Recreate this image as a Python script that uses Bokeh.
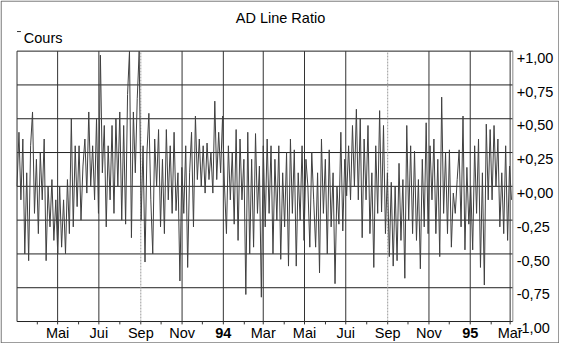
import pandas as pd
from bokeh.plotting import figure
from bokeh.models import Range1d, ColumnDataSource
from bokeh.core.properties import value
from bokeh.embed import file_html
from bokeh.resources import INLINE

# ---- data ----
values = [
    0.0, 0.4, -0.1, 0.35, -0.5, 0.1, -0.55,
    0.3, 0.55, -0.2, 0.2, -0.35, 0.25, -0.1,
    0.35, -0.55, 0.0, -0.3, 0.05, -0.4, -0.1,
    -0.5, 0.0, -0.45, -0.1, -0.5, 0.05, -0.35,
    0.5, -0.3, 0.3, -0.15, 0.3, -0.25, 0.15,
    0.35, -0.05, 0.55, 0.0, 0.3, -0.1, 0.5,
    -0.2, 0.97, 0.1, 0.45, -0.3, 0.3, -0.1,
    0.45, -0.2, 0.5, 0.0, 0.55, -0.25, 0.45,
    -0.28, 0.68, 1.0, -0.38, 0.55, 0.1, 0.65,
    1.0, -0.25, 0.3, -0.56, 0.25, 0.54, -0.1,
    -0.5, 0.35, 0.0, 0.42, -0.3, 0.2, -0.35,
    0.42, -0.1, 0.3, -0.2, 0.4, -0.18, 0.1,
    -0.7, 0.14, -0.2, 0.3, -0.6, 0.1, 0.4,
    -0.3, 0.52, 0.05, 0.35, 0.0, 0.3, -0.05,
    0.32, 0.05, 0.25, -0.05, 0.63, 0.05, 0.4,
    0.1, 0.52, 0.0, -0.35, 0.3, -0.1, 0.25,
    -0.28, 0.42, -0.4, 0.35, -0.1, 0.2, -0.8,
    0.4, -0.5, 0.2, -0.45, 0.39, -0.2, 0.15,
    -0.82, 0.3, -0.3, 0.35, -0.2, 0.3, -0.5,
    0.2, -0.25, 0.3, -0.54, 0.1, -0.3, 0.25,
    -0.59, 0.35, -0.2, 0.27, -0.59, 0.1, -0.25,
    0.3, -0.4, 0.2, 0.0, -0.45, 0.25, -0.1,
    -0.45, 0.1, -0.64, 0.35, -0.2, 0.2, -0.5,
    0.27, -0.3, 0.1, -0.72, 0.0, -0.28, 0.4,
    -0.33, 0.2, -0.07, 0.3, -0.1, 0.45, 0.0,
    0.57, -0.1, 0.5, -0.38, 0.35, -0.1, 0.45,
    -0.35, 0.1, -0.6, 0.3, -0.2, 0.56, -0.19,
    0.45, -0.35, 0.1, -0.52, 0.03, -0.59, 0.0,
    -0.55, 0.17, -0.4, 0.05, -0.68, 0.45, -0.25,
    0.3, -0.35, 0.26, -0.4, 0.05, -0.61, 0.2,
    -0.3, 0.47, -0.35, 0.3, -0.1, 0.35, -0.35,
    0.2, -0.52, 0.66, -0.2, 0.25, -0.35, 0.27,
    -0.45, -0.05, -0.2, 0.05, 0.27, -0.3, 0.52,
    -0.47, 0.14, -0.28, 0.0, -0.47, 0.3, -0.2,
    0.35, -0.6, 0.1, -0.73, 0.46, -0.1, 0.42,
    -0.1, 0.45, 0.0, 0.35, -0.3, 0.1, -0.35,
    0.3, -0.4, 0.15, -0.1,
]
first_date = "1993-03-02"
last_date = "1995-03-03"
range_start = "1993-03-02"
range_end = "1995-03-05"

tick_dates = ["1993-05-01", "1993-07-01", "1993-09-01", "1993-11-01",
              "1994-01-01", "1994-03-01", "1994-05-01", "1994-07-01",
              "1994-09-01", "1994-11-01", "1995-01-01", "1995-03-01"]
tick_labels = ["Mai", "Jui", "Sep", "Nov", "94", "Mar",
               "Mai", "Jui", "Sep", "Nov", "95", "Mar"]
bold_labels = ["94", "95"]
dotted_labels = ["Sep"]
minor_start, minor_end = "1993-04-01", "1995-02-01"

y_ticks = [-1.0, -0.75, -0.5, -0.25, 0.0, 0.25, 0.5, 0.75, 1.0]
y_labels = ["-1,00", "-0,75", "-0,50", "-0,25", "+0,00",
            "+0,25", "+0,50", "+0,75", "+1,00"]

title_text = "AD Line Ratio"
legend_text = "Cours"


def ms(d):
    return pd.Timestamp(d).value / 1e6


dates = pd.date_range(first_date, last_date, periods=len(values))
xs = [ts.value / 1e6 for ts in dates]
tick_ms = [ms(d) for d in tick_dates]
minor_ms = [ts.value / 1e6 for ts in pd.date_range(minor_start, minor_end, freq="MS")]

# ---- layout: reference picture is 575x359; the figure fits inside the
# window minus the 8px page margin, so everything is scaled to it ----
REF_W, REF_H = 575, 359
W, H = 559, 343
FL, FR, FT, FB = 17, 527, 53, 336          # plot frame in reference pixels
x0, x1 = ms(range_start), ms(range_end)
kx = (x1 - x0) / (FR - FL)
ky = 2.0 / (FB - FT)


def X(px):
    return x0 + (px - FL) * kx


def Y(py):
    return 1.0 - (py - FT) * ky


FONT = value("Liberation Sans")
FS = value("14.5px")

p = figure(width=W, height=H, output_backend="svg", toolbar_location=None,
           x_axis_type=None, y_axis_type=None,
           x_range=Range1d(X(0), X(REF_W)), y_range=Range1d(Y(REF_H), Y(0)),
           min_border=0)
p.min_border_left = p.min_border_right = p.min_border_top = p.min_border_bottom = 0
p.outline_line_color = None
p.background_fill_color = "white"
p.border_fill_color = "white"
p.xgrid.visible = False
p.ygrid.visible = False

# outer border of the picture
p.line(x=[X(0.6), X(REF_W - 0.6), X(REF_W - 0.6), X(0.6), X(0.6)],
       y=[Y(0.6), Y(0.6), Y(REF_H - 0.6), Y(REF_H - 0.6), Y(0.6)],
       line_color="#555555", line_width=1)

# horizontal grid lines
p.segment(x0=[x0] * len(y_ticks), x1=[x1] * len(y_ticks), y0=y_ticks, y1=y_ticks,
          line_color="#222222", line_width=1)

# vertical grid lines
solid = [t for t, l in zip(tick_ms, tick_labels) if l not in dotted_labels]
dotted = [t for t, l in zip(tick_ms, tick_labels) if l in dotted_labels]
p.segment(x0=solid, x1=solid, y0=[-1] * len(solid), y1=[1] * len(solid),
          line_color="#333333", line_width=1)
p.segment(x0=dotted, x1=dotted, y0=[-1] * len(dotted), y1=[1] * len(dotted),
          line_color="#9a9a9a", line_width=1, line_dash="2 1")

# frame sides
p.segment(x0=[x0], x1=[x0], y0=[-1], y1=[1], line_color="#333333", line_width=1)
p.segment(x0=[x1], x1=[x1], y0=[-1], y1=[1], line_color="#888888", line_width=1)

# bottom tick marks
all_ticks = sorted(set(minor_ms + tick_ms))
p.segment(x0=all_ticks, x1=all_ticks, y0=[-1] * len(all_ticks),
          y1=[Y(FB + 3)] * len(all_ticks), line_color="#333333", line_width=1)

# data line
p.line(x=xs, y=values, line_color="#404040", line_width=1)

# bottom labels
lab_src = ColumnDataSource(dict(
    x=tick_ms, y=[Y(348.5)] * len(tick_ms), text=tick_labels,
    style=["bold" if l in bold_labels else "normal" for l in tick_labels]))
p.text(x="x", y="y", text="text", source=lab_src, text_align="center",
       text_baseline="alphabetic", text_font=FONT, text_font_size=FS,
       text_font_style="style", text_color="black")

# right labels (baseline about 7 px below each grid line)
p.text(x=[X(531)] * len(y_ticks), y=[t - 7 * ky for t in y_ticks], text=y_labels,
       text_align="left", text_baseline="alphabetic", text_font=FONT,
       text_font_size=FS, text_color="black")

# title and legend
p.text(x=[X(288)], y=[Y(18.5)], text=[title_text], text_align="center",
       text_baseline="alphabetic", text_font=FONT, text_font_size=FS,
       text_color="black")
p.segment(x0=[X(17)], x1=[X(21)], y0=[Y(32.5)], y1=[Y(32.5)],
          line_color="#333333", line_width=1)
p.text(x=[X(24)], y=[Y(39.5)], text=[legend_text], text_align="left",
       text_baseline="alphabetic", text_font=FONT, text_font_size=FS,
       text_color="black")

open("out.html", "w").write(file_html(p, INLINE))
